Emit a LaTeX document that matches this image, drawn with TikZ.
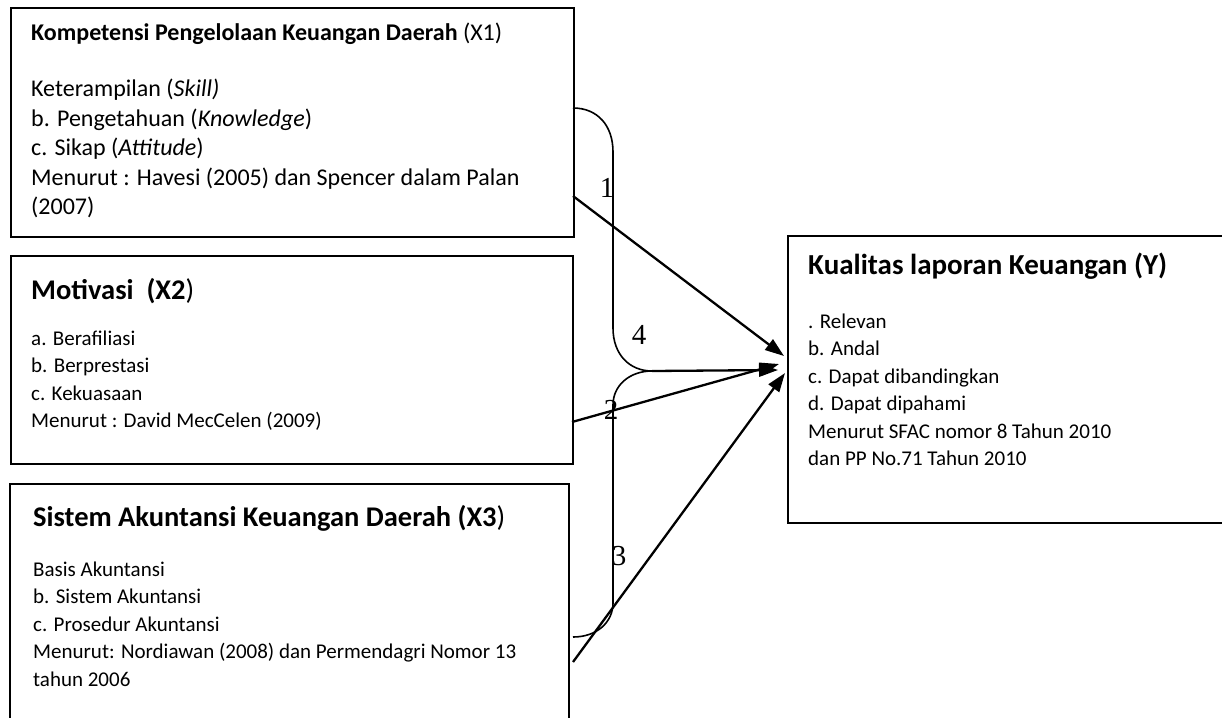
\documentclass[tikz,border=0pt]{standalone}
\usepackage{fontspec}
\setmainfont{Carlito}
\newfontfamily\numfont{Liberation Serif}
\usetikzlibrary{arrows.meta}
\tikzset{
  boxst/.style={draw, line width=1.6pt, inner sep=0pt, anchor=north west},
  conn/.style={line width=2.3pt, -{Triangle[length=19pt,width=13pt]}},
  bracest/.style={line width=1.6pt},
  lbl/.style={font=\numfont\fontsize{29}{29}\selectfont, inner sep=0pt},
  ttl/.style={anchor=base west, inner sep=0pt, font=\bfseries\fontsize{28.5}{34}\selectfont},
  ttly/.style={anchor=base west, inner sep=0pt, font=\bfseries\fontsize{29}{34}\selectfont},
  ttlsmall/.style={anchor=base west, inner sep=0pt, font=\fontsize{24}{29.5}\selectfont},
  bodylg/.style={anchor=base west, inner sep=0pt, font=\fontsize{24}{29.5}\selectfont},
  body/.style={anchor=base west, inner sep=0pt, font=\fontsize{21}{27.5}\selectfont},
}
\begin{document}
\begin{tikzpicture}[x=1pt,y=-1pt]
\useasboundingbox[fill=white] (0,0) rectangle (1222,717);

% boxes
\node[boxst, minimum width=563pt, minimum height=229pt] (x1) at (10,7) {};
\node[boxst, minimum width=562pt, minimum height=208pt] (x2) at (10,255) {};
\node[boxst, minimum width=559pt, minimum height=280pt] (x3) at (9,483) {};
\node[boxst, minimum width=460pt, minimum height=287pt] (y) at (787,235) {};

% X1 text
\node[ttlsmall] (x1t) at (31,40.5) {\textbf{Kompetensi Pengelolaan Keuangan Daerah} (X1)};
\node[bodylg] (x1b) at (31,96.5) {\begin{tabular}[t]{@{}l@{}}
Keterampilan (\textit{Skill)}\\
b. Pengetahuan (\textit{Knowledge})\\
c. Sikap (\textit{Attitude})\\
Menurut : Havesi (2005) dan Spencer dalam Palan\\
(2007)
\end{tabular}};

% X2 text
\node[ttl] (x2t) at (31,299) {Motivasi\ \ (X2\textmd{)}};
\node[body] (x2b) at (31,345) {\begin{tabular}[t]{@{}l@{}}
a. Berafiliasi\\
b. Berprestasi\\
c. Kekuasaan\\
Menurut : David MecCelen (2009)
\end{tabular}};

% X3 text
\node[ttl] (x3t) at (33,526) {Sistem Akuntansi Keuangan Daerah (X3\textmd{)}};
\node[body] (x3b) at (33,576) {\begin{tabular}[t]{@{}l@{}}
Basis Akuntansi\\
b. Sistem Akuntansi\\
c. Prosedur Akuntansi\\
Menurut: Nordiawan (2008) dan Permendagri Nomor 13\\
tahun 2006
\end{tabular}};

% Y text
\node[ttly] (yt) at (808,274) {Kualitas laporan Keuangan (Y)};
\node[body] (yb) at (808,328) {\begin{tabular}[t]{@{}l@{}}
. Relevan\\
b. Andal\\
c. Dapat dibandingkan\\
d. Dapat dipahami\\
Menurut SFAC nomor 8 Tahun 2010\\
dan PP No.71 Tahun 2010
\end{tabular}};

% brace
\coordinate (bt) at (573,108);
\coordinate (bm) at (652,371);
\coordinate (bb) at (573,637);
\draw[bracest] (bt) .. controls (597,108) and (613,125) .. (613,152) -- (613,328)
  .. controls (613,355) and (630,371) .. (bm)
  .. controls (630,371) and (613,385) .. (613,405) -- (613,603)
  .. controls (613,622) and (597,637) .. (bb);

% arrow endpoints
\coordinate (s1) at (573,196);
\coordinate (s2) at (572,422);
\coordinate (s3) at (573,662);
\coordinate (e1) at (784,356);
\coordinate (e4) at (778,370);
\coordinate (e2) at (779,364);
\coordinate (e3) at (785,373);

\draw[conn] (s1) -- (e1);
\draw[conn] (bm) -- (e4);
\draw[conn] (s2) -- (e2);
\draw[conn] (s3) -- (e3);

% labels
\node[lbl] (l1) at (607,188) {1};
\node[lbl] (l4) at (639,335) {4};
\node[lbl] (l2) at (611,410) {2};
\node[lbl] (l3) at (619,556) {3};
\end{tikzpicture}
\end{document}
